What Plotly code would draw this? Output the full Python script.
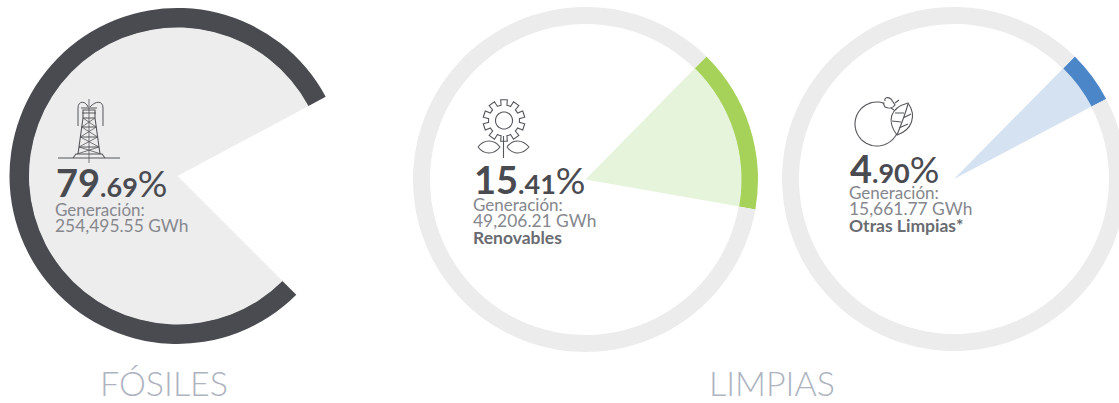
import math
import re
import plotly.graph_objects as go

# ---- data ----
group_titles = ["FÓSILES", "LIMPIAS"]
whole_parts = ["79", "15", "4"]
decimal_parts = [".69", ".41", ".90"]
shares = [79.69, 15.41, 4.90]
gen_labels = ["254,495.55 GWh", "49,206.21 GWh", "15,661.77 GWh"]
sub_labels = ["", "Renovables", "Otras Limpias*"]

# ---- styling ----
W, H = 1130, 403
ring_on = ["#4A4B50", "#A6D25A", "#4A86C8"]
ring_off = ["rgba(0,0,0,0)", "#ECECEC", "#ECECEC"]
wedge = ["#EDEDED", "#E5F4DB", "#D5E2F2"]
centers = [(177.5, 176), (585.5, 179.5), (954, 179)]
radii = [168, 172.5, 172]
ring_w = [20, 17, 17]
rotations = [135, 44.5, 44.6]
text_x = [56, 474, 850]
big_y = [182, 179, 168]
line_y = [209, 204, 192]
icon_color = "#55565B"

fig = go.Figure()


def domain(cx, cy, r):
    return dict(x=[(cx - r) / W, (cx + r) / W], y=[1 - (cy + r) / H, 1 - (cy - r) / H])


for i, v in enumerate(shares):
    cx, cy = centers[i]
    r, w = radii[i], ring_w[i]
    fig.add_trace(go.Pie(
        values=[v, 100 - v], domain=domain(cx, cy, r), hole=(r - w) / r, sort=False,
        direction="clockwise", rotation=rotations[i], textinfo="none", hoverinfo="skip",
        showlegend=False, marker=dict(colors=[ring_on[i], ring_off[i]], line=dict(width=0)),
    ))
    fig.add_trace(go.Pie(
        values=[v, 100 - v], domain=domain(cx, cy, r - w + 0.5), sort=False,
        direction="clockwise", rotation=rotations[i], textinfo="none", hoverinfo="skip",
        showlegend=False, marker=dict(colors=[wedge[i], "rgba(0,0,0,0)"], line=dict(width=0)),
    ))


def P(path):
    """Convert a path written in window pixels to paper coordinates."""
    toks = re.findall(r"[MLCZ]|-?\d+\.?\d*", path)
    out, is_x = [], True
    for t in toks:
        if t in "MLCZ":
            out.append(t)
            is_x = True
        else:
            val = float(t)
            out.append(f"{val / W:.5f}" if is_x else f"{1 - val / H:.5f}")
            is_x = not is_x
    return " ".join(out)


def icon(path, width=1.1, color=icon_color):
    fig.add_shape(type="path", xref="paper", yref="paper", path=P(path),
                  line=dict(color=color, width=width), layer="above")


def arc(cx, cy, r, a0, a1, n=48):
    pts = []
    for k in range(n + 1):
        a = math.radians(a0 + (a1 - a0) * k / n)
        pts.append(f"{cx + r * math.sin(a):.2f} {cy - r * math.cos(a):.2f}")
    return "M " + " L ".join(pts)


# tower icon
icon("M 58 158 L 120 158")
icon("M 89 99 L 89 163", 0.8)
icon("M 73 158 L 76 154 L 102 154 L 105 158")
icon("M 78 154 L 83 118 L 83 110 L 95 110 L 95 118 L 100 154")
icon("M 81 108 L 97 108 M 82 113 L 96 113 M 83 118 L 95 118 M 81.8 127 L 96.2 127 M 80.4 137 L 97.6 137 M 79 147 L 99 147")
icon("M 83 118 L 96.2 127 M 95 118 L 81.8 127 M 81.8 127 L 97.6 137 M 96.2 127 L 80.4 137 M 80.4 137 L 99 147 M 97.6 137 L 79 147 M 79 147 L 101 154 M 99 147 L 77 154", 0.8)
icon("M 78 126 L 78 108 C 78 100 86 101 88 107 M 103 126 L 103 108 C 103 100 95 101 90 107", 1.0)

# flower icon
gear = []
fx, fy = 504, 120.5
teeth = 10
for k in range(teeth):
    base = 360 * k / teeth
    for da, rr in [(-18, 15.5), (-11, 15.5), (-9, 21), (9, 21), (11, 15.5), (18, 15.5)]:
        a = math.radians(base + da)
        gear.append(f"{fx + rr * math.sin(a):.2f} {fy - rr * math.cos(a):.2f}")
icon("M " + " L ".join(gear) + " Z")
icon(arc(fx, fy, 8.5, 0, 360))
icon("M 503.5 136 L 503.5 158")
icon("M 478 147 C 484 139 494 139 500 147 C 494 155 484 155 478 147")
icon("M 507 147 C 513 139 522 139 529 147 C 522 155 513 155 507 147")

# plug and leaf icon
icon(arc(877, 124, 22, 116, 380))
icon("M 885 101 C 884 97 888 97 891 99 L 895 105 C 893 108 889 109 885 107 L 883 103")
icon("M 895 103 L 899 100 M 891 108 L 894 110")
icon("M 908 103 C 889 108 887 122 897 135 C 912 130 917 116 908 103 Z")
icon("M 908 104 C 905 115 901 125 897 135 M 904 113 L 895 113 M 903 118 L 911 114 M 901 122 L 892 121 M 899 128 L 908 124")


def text(x, y, s, size, color, anchor="left", weight=None):
    font = dict(family="Lato, sans-serif", size=size, color=color)
    if weight:
        font["weight"] = weight
    fig.add_annotation(x=x / W, y=1 - y / H, xref="paper", yref="paper", text=s, showarrow=False,
                       xanchor=anchor, yanchor="middle", borderpad=0, borderwidth=0, font=font)


for i in range(3):
    x = text_x[i]
    big = (f"<b>{whole_parts[i]}</b><span style=\"font-size:27px\"><b> {decimal_parts[i]}</b></span>"
           f"<span style=\"font-size:37px\">%</span>").replace("> .", ">.")
    text(x, big_y[i], big, 38, "#4A4B50")
    text(x - 1, line_y[i], "Generación:", 17, "#86878D")
    text(x - 1, line_y[i] + 16, gen_labels[i], 17.4, "#86878D")
    if sub_labels[i]:
        text(x - 1, line_y[i] + 33, f"<b>{sub_labels[i]}</b>", 17.5, "#6A6B71")

text(164, 382, group_titles[0], 34, "#AEB4BF", "center", 300)
text(772, 382, group_titles[1], 34, "#AEB4BF", "center", 300)

fig.update_layout(width=W, height=H, margin=dict(l=0, r=0, t=0, b=0), autosize=False,
                  paper_bgcolor="white", plot_bgcolor="white")

fig.write_html("out.html", config={"displayModeBar": False},
               post_script="document.body.style.margin='0';document.body.style.overflow='hidden';")
